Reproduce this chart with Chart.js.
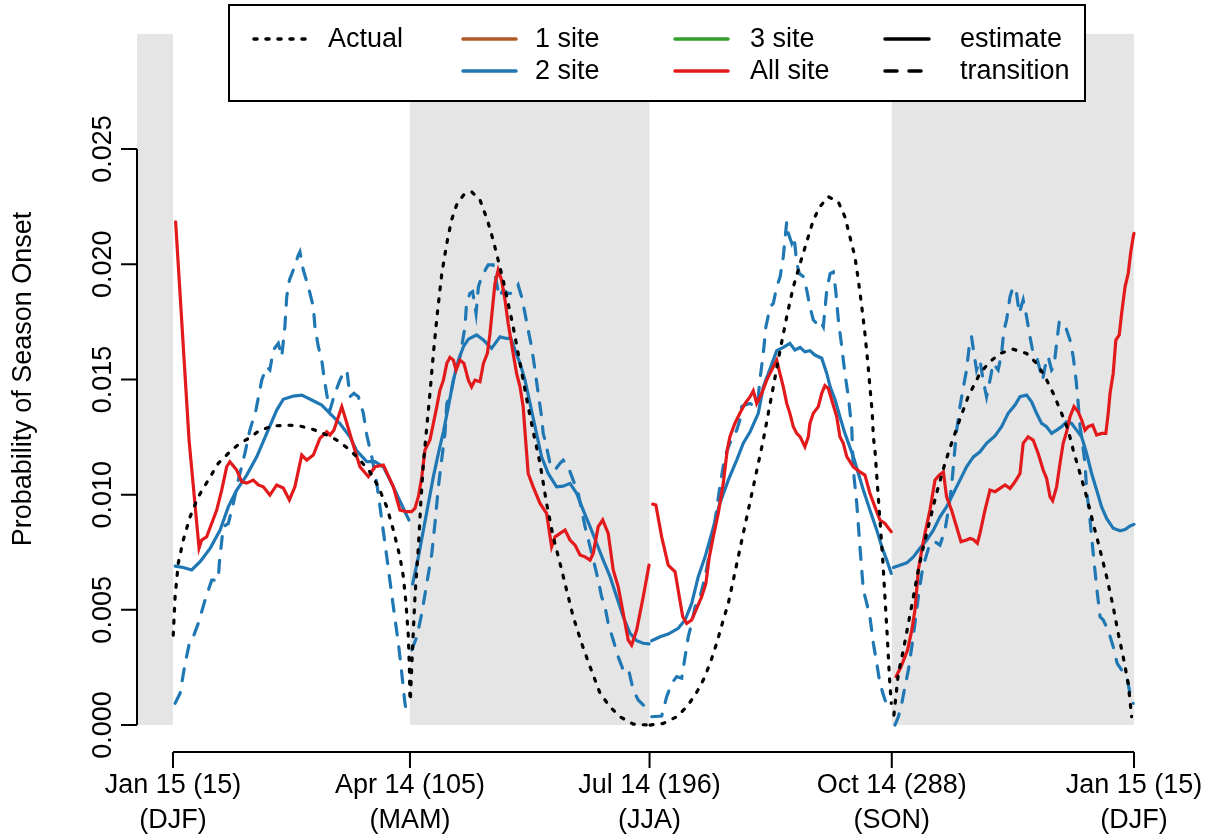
<!DOCTYPE html>
<html>
<head>
<meta charset="utf-8">
<title>Probability of Season Onset</title>
<script src="https://cdn.jsdelivr.net/npm/chart.js@4.4.1/dist/chart.umd.min.js"></script>
<style>
  body { margin: 0; background: #fff; }
  canvas { display: block; }
</style>
</head>
<body>
<canvas id="onset-chart" width="1210" height="837"></canvas>
<script>
// x = days after Jan 15, y = probability of season onset.
// A null probability breaks the line at a season boundary.
const actualDay = [
  0.1, 0.8, 2.0, 3.9, 6.5, 9.6, 13.4, 17.2, 21.6, 25.4, 29.2, 33.0, 38.1, 43.2, 48.2, 53.3, 58.4, 62.2, 67.2, 71.0,
  74.8, 78.0, 81.2, 83.7, 86.2, 87.5, 88.5, 89.4, 89.8, 90.0, 90.0,
  90.2, 91.0, 91.9, 93.2, 94.1, 95.1, 96.1, 97.6, 98.9, 100.4, 102.1, 104.0, 105.8, 107.7, 110.3, 113.4, 116.6, 119.4,
  121.6, 123.5, 125.4, 127.3, 129.2, 131.1, 133.0, 134.9, 136.8, 139.4, 141.9, 144.4, 147.0, 149.5, 152.0, 155.2,
  158.4, 162.2, 166.0, 169.8, 174.8, 180.6, 181.0,
  181.2, 186.2, 191.3, 195.1, 198.3, 201.4, 204.0, 206.5, 209.0, 210.9, 212.8, 214.7, 216.6, 218.5, 220.4, 222.3,
  224.2, 226.8, 228.0, 230.6, 233.1, 235.6, 238.2, 240.7, 243.2, 245.7, 248.9, 252.7, 255.2, 257.1, 259.0, 260.3,
  261.6, 262.8, 263.8, 264.7, 265.6, 266.0, 266.6, 267.5, 268.5, 269.5, 270.4, 271.3, 272.1, 272.8, 273.0,
  273.8, 275.5, 277.4, 279.3, 281.2, 283.1, 285.0, 287.5, 290.0, 293.2, 295.7, 298.3, 302.0, 306.5, 310.3, 314.1,
  319.1, 324.2, 328.0, 331.2, 334.3, 337.5, 340.0, 341.9, 344.5, 347.0, 349.5, 352.1, 354.6, 357.1, 359.0, 360.9,
  362.8, 364.1
];
const actualProb = [
  0.0039, 0.00557, 0.00702, 0.00803, 0.00904, 0.00991, 0.01063, 0.01136, 0.01186, 0.01223, 0.01247, 0.0128, 0.01298,
  0.01302, 0.01298, 0.01283, 0.01259, 0.01237, 0.01194, 0.0115, 0.01099, 0.01034, 0.00947, 0.00846, 0.0073, 0.00644,
  0.00528, 0.00383, 0.00239, 0.0012, null,
  0.00123, 0.0034, 0.00557, 0.00774, 0.00962, 0.01136, 0.01259, 0.0144, 0.01613, 0.01787, 0.0196, 0.02091, 0.02192,
  0.02257, 0.023, 0.02315, 0.02279, 0.02192, 0.02105, 0.02018, 0.01931, 0.0183, 0.01729, 0.01613, 0.01497, 0.01382,
  0.01273, 0.01136, 0.00962, 0.00817, 0.00702, 0.00586, 0.0047, 0.00355, 0.00253, 0.00138, 0.00079, 0.00036,
  0.00004, 0.0, null,
  0.0, 0.00007, 0.00036, 0.00079, 0.0013, 0.00195, 0.00268, 0.00355, 0.00456, 0.00528, 0.00629, 0.0073, 0.00832,
  0.00933, 0.01034, 0.01136, 0.01237, 0.01396, 0.01468, 0.01628, 0.01772, 0.01902, 0.02004, 0.02098, 0.02192, 0.0225,
  0.02293, 0.02271, 0.02206, 0.02119, 0.02033, 0.01931, 0.01816, 0.017, 0.01584, 0.01468, 0.01353, 0.01251, 0.01194,
  0.01049, 0.0089, 0.0073, 0.00557, 0.00383, 0.0021, 0.00094, null,
  0.00043, 0.00224, 0.00326, 0.00441, 0.00557, 0.00673, 0.00774, 0.0089, 0.01006, 0.01136, 0.01223, 0.01309, 0.01425,
  0.01527, 0.01577, 0.01613, 0.01631, 0.01613, 0.0157, 0.01512, 0.0144, 0.01353, 0.0128, 0.01194, 0.01092, 0.00991,
  0.00875, 0.0076, 0.00644, 0.00513, 0.00398, 0.00296, 0.00181, 0.00036
];

const allSiteDay = [
  1.0, 6.1, 9.9, 10.9, 12.8, 16.6, 18.5, 20.4, 21.6, 24.2, 26.1, 28.0, 30.5, 32.4, 34.3, 36.8, 39.4, 41.9, 44.2, 46.3,
  48.9, 50.8, 53.3, 55.8, 58.4, 59.6, 61.1, 64.1, 66.0, 67.9, 71.0, 74.2, 76.7, 79.9, 83.7, 86.2, 88.8, 90.6,
  91.9, 93.2, 94.5, 95.7, 97.6, 100.2, 101.4, 102.7, 104.0, 105.2, 106.5, 107.5, 109.0, 110.5, 112.2, 113.4, 114.7,
  116.6, 117.9, 119.4, 120.4, 121.4, 122.3, 123.5, 124.8, 126.1, 127.3, 129.2, 130.5, 131.8, 133.0, 133.7, 134.9,
  136.8, 139.4, 141.9, 143.8, 145.1, 147.0, 148.9, 150.8, 152.7, 154.6, 156.5, 158.4, 159.6, 161.5, 163.2, 165.3,
  167.2, 169.1, 171.0, 172.9, 174.2, 176.1, 178.6, 180.8, 181.0,
  182.2, 183.4, 185.6, 188.1, 190.7, 192.3, 193.6, 195.1, 197.0, 198.9, 200.8, 202.4, 203.7, 205.2, 207.1, 209.0,
  210.5, 211.5, 213.4, 215.3, 217.3, 219.2, 220.4, 221.7, 223.6, 225.5, 227.4, 229.3, 230.5, 231.8, 233.1, 234.3,
  235.6, 236.9, 238.2, 240.0, 241.3, 241.9, 243.2, 245.1, 246.4, 247.6, 248.9, 250.2, 252.1, 253.3, 254.6, 255.9,
  258.4, 260.9, 262.8, 264.7, 266.6, 268.5, 270.4, 272.8, 273.0,
  274.6, 276.5, 279.0, 280.6, 281.8, 283.1, 284.4, 285.6, 287.5, 289.4, 291.0, 292.6, 293.8, 295.7, 297.6, 299.3,
  301.4, 302.7, 303.9, 305.5, 306.5, 308.4, 310.3, 312.2, 314.1, 316.0, 317.9, 319.8, 321.7, 322.9, 324.8, 326.7,
  328.6, 330.5, 331.8, 333.1, 334.1, 335.6, 336.9, 338.1, 339.4, 340.7, 342.2, 343.8, 345.1, 346.4, 347.6, 349.3,
  350.8, 352.7, 354.3, 355.2, 355.9, 357.1, 358.1, 359.4, 360.3, 361.6, 362.8, 363.7, 364.7, 365.0
];
const allSiteProb = [
  0.02184, 0.01237, 0.00768, 0.00803, 0.00817, 0.00933, 0.0102, 0.01121, 0.01143, 0.01107, 0.01056, 0.0105, 0.01063,
  0.01042, 0.01034, 0.00998, 0.01042, 0.01029, 0.00977, 0.01034, 0.01172, 0.0115, 0.01172, 0.01244, 0.01273, 0.01259,
  0.0128, 0.01382, 0.01311, 0.01237, 0.01121, 0.01078, 0.01121, 0.01128, 0.01034, 0.00933, 0.00926, 0.00926,
  0.0094, 0.00991, 0.01078, 0.01194, 0.01237, 0.01382, 0.01454, 0.01497, 0.0157, 0.01596, 0.01584, 0.01541, 0.01584,
  0.0157, 0.01497, 0.01468, 0.01497, 0.0149, 0.0157, 0.01613, 0.017, 0.01816, 0.01917, 0.01975, 0.01931, 0.01845,
  0.01744, 0.01613, 0.01526, 0.01468, 0.01382, 0.01273, 0.01092, 0.01034, 0.00962, 0.00919, 0.00774, 0.00817, 0.00832,
  0.00846, 0.00803, 0.00781, 0.00738, 0.0073, 0.00716, 0.00745, 0.00861, 0.0089, 0.00832, 0.00673, 0.006, 0.00485,
  0.00369, 0.00347, 0.00412, 0.00557, 0.00694, null,
  0.00959, 0.00955, 0.00817, 0.00694, 0.00665, 0.00557, 0.0047, 0.00441, 0.00456, 0.00506, 0.00557, 0.00615, 0.0073,
  0.00817, 0.00919, 0.01049, 0.01194, 0.01251, 0.01309, 0.01353, 0.01396, 0.01425, 0.01451, 0.01396, 0.0144, 0.01497,
  0.01541, 0.01584, 0.01526, 0.01468, 0.01396, 0.01353, 0.01295, 0.01266, 0.01251, 0.01208, 0.01251, 0.01309, 0.01353,
  0.01382, 0.0144, 0.01473, 0.01461, 0.01411, 0.01338, 0.01251, 0.01223, 0.01165, 0.01121, 0.01099, 0.01085, 0.01006,
  0.00947, 0.0089, 0.00875, 0.00839, null,
  0.0021, 0.00253, 0.00326, 0.00412, 0.00499, 0.00673, 0.0076, 0.00832, 0.00933, 0.01063, 0.01085, 0.01099, 0.00991,
  0.00933, 0.00861, 0.00796, 0.00803, 0.0081, 0.00806, 0.00789, 0.00832, 0.00933, 0.0102, 0.01013, 0.01027, 0.01042,
  0.01027, 0.01056, 0.01092, 0.01223, 0.01251, 0.01237, 0.01179, 0.01107, 0.01071, 0.00991, 0.00974, 0.01034, 0.01136,
  0.01223, 0.01273, 0.01338, 0.01382, 0.0136, 0.01324, 0.0128, 0.01295, 0.01302, 0.01259, 0.01266, 0.01266, 0.01353,
  0.0144, 0.01527, 0.01671, 0.01693, 0.01787, 0.01902, 0.0196, 0.02047, 0.02119, 0.02134
];

const twoSiteDay = [
  0.8, 3.9, 7.1, 10.3, 14.1, 17.9, 21.0, 24.2, 28.0, 31.8, 35.6, 39.4, 41.9, 45.7, 48.9, 52.7, 56.5, 59.6, 63.4, 67.2,
  69.8, 73.6, 76.7, 79.9, 83.7, 86.9, 89.6, 90.0,
  91.0, 93.2, 95.1, 97.0, 98.9, 100.8, 102.7, 104.6, 106.5, 108.4, 110.3, 112.2, 115.3, 117.9, 121.0, 124.2, 126.7,
  128.3, 129.9, 131.8, 133.7, 135.6, 137.5, 140.0, 142.5, 145.7, 148.2, 150.8, 153.3, 155.8, 158.4, 160.9, 163.4,
  166.0, 168.5, 171.0, 173.6, 176.1, 178.6, 180.8, 181.0,
  181.8, 185.0, 188.1, 191.9, 194.5, 197.0, 199.5, 202.1, 204.6, 207.7, 210.9, 214.1, 216.6, 219.2, 222.3, 224.2,
  226.1, 228.0, 229.3, 231.8, 234.3, 236.2, 238.2, 240.0, 241.9, 243.8, 246.4, 248.3, 249.6, 251.5, 253.3, 255.2,
  258.4, 260.3, 262.2, 264.7, 267.3, 269.2, 271.1, 272.8, 273.0,
  273.6, 276.1, 278.7, 281.2, 283.7, 286.3, 288.8, 291.3, 293.8, 296.4, 298.9, 301.4, 304.0, 306.5, 309.0, 312.2,
  314.7, 317.2, 319.8, 321.7, 324.2, 326.1, 328.0, 329.9, 331.8, 333.7, 335.6, 337.5, 339.4, 341.3, 343.2, 345.1,
  347.0, 348.9, 350.8, 352.7, 354.6, 357.1, 359.7, 361.6, 363.5, 365.0
];
const twoSiteProb = [
  0.0069, 0.00684, 0.00673, 0.00709, 0.00767, 0.00846, 0.00947, 0.0102, 0.01085, 0.01164, 0.01266, 0.01367, 0.01414,
  0.01428, 0.01432, 0.01411, 0.01389, 0.01353, 0.01309, 0.01251, 0.0119, 0.01143, 0.01143, 0.01121, 0.01034, 0.00955,
  0.0089, null,
  0.00612, 0.0073, 0.00846, 0.00962, 0.01078, 0.01179, 0.01273, 0.01382, 0.01497, 0.01584, 0.01642, 0.01675, 0.01693,
  0.01671, 0.01635, 0.01685, 0.01678, 0.01678, 0.01628, 0.0157, 0.01497, 0.01396, 0.01295, 0.01164, 0.01092, 0.01034,
  0.01037, 0.01049, 0.01006, 0.00933, 0.00861, 0.00789, 0.00716, 0.00644, 0.00557, 0.0047, 0.00398, 0.00366, 0.00355,
  0.00352, null,
  0.00366, 0.00383, 0.00395, 0.0042, 0.00456, 0.00528, 0.00644, 0.0073, 0.00832, 0.00962, 0.01063, 0.0115, 0.01223,
  0.01273, 0.01353, 0.01468, 0.01526, 0.01584, 0.01625, 0.01639, 0.01657, 0.01628, 0.01639, 0.0162, 0.01625, 0.01606,
  0.01592, 0.01526, 0.01468, 0.01411, 0.01338, 0.01266, 0.01164, 0.01092, 0.0102, 0.00933, 0.00846, 0.00774, 0.00716,
  0.00658, null,
  0.00684, 0.00694, 0.00704, 0.0073, 0.00767, 0.00803, 0.00846, 0.00904, 0.00947, 0.01006, 0.01063, 0.01121, 0.01164,
  0.01186, 0.01223, 0.01255, 0.01295, 0.01353, 0.01389, 0.01425, 0.01432, 0.01403, 0.01353, 0.01309, 0.01295, 0.01266,
  0.0128, 0.01295, 0.01316, 0.01309, 0.0128, 0.01251, 0.01179, 0.01092, 0.0102, 0.00947, 0.00897, 0.00854, 0.00843,
  0.00849, 0.00864, 0.00871
];

const twoTransDay = [
  0.8, 2.7, 4.6, 6.5, 7.7, 9.6, 12.2, 14.7, 17.2, 17.6, 19.1, 21.0, 22.9, 24.8, 27.3, 29.2, 31.5, 33.7, 35.6, 36.8,
  38.1, 40.0, 41.3, 42.5, 43.2, 44.2, 45.7, 47.6, 48.2, 49.5, 51.4, 53.3, 53.9, 55.2, 56.5, 57.5, 59.0, 59.6, 61.5,
  63.4, 65.3, 66.2, 67.2, 68.7, 70.4, 72.3, 73.6, 75.5, 77.4, 79.3, 81.2, 83.7, 85.6, 86.9, 88.1, 89.0, 90.0,
  90.7, 92.6, 94.5, 96.4, 98.3, 99.5, 100.8, 101.4, 103.3, 104.0, 105.2, 107.1, 109.0, 110.9, 111.5, 112.8, 113.8,
  115.1, 116.0, 117.2, 119.7, 121.6, 122.7, 123.9, 125.4, 127.3, 129.2, 131.1, 132.4, 133.7, 134.9, 136.2, 137.5,
  138.7, 140.0, 140.6, 141.3, 143.2, 145.1, 147.0, 148.2, 150.1, 152.0, 153.9, 155.2, 156.5, 158.4, 160.3, 161.5,
  162.8, 164.1, 165.3, 167.2, 169.1, 171.0, 172.9, 174.8, 176.7, 179.3, 180.5, 181.0,
  181.8, 185.6, 187.5, 189.4, 191.3, 193.2, 194.5, 195.7, 197.0, 198.3, 200.2, 202.1, 204.0, 205.9, 207.7, 209.6,
  211.5, 214.1, 215.3, 216.0, 217.3, 219.2, 221.0, 222.3, 222.9, 224.2, 225.2, 226.8, 228.0, 229.3, 230.6, 231.8,
  232.4, 233.1, 233.7, 235.0, 235.9, 236.9, 237.9, 239.4, 240.7, 241.9, 243.2, 244.5, 245.7, 247.0, 248.3, 249.6,
  250.8, 251.7, 252.7, 254.0, 255.2, 256.5, 257.8, 258.4, 259.7, 260.9, 262.2, 263.5, 264.7, 266.0, 267.3, 268.5,
  270.4, 271.7, 272.8, 273.0,
  274.2, 275.5, 276.8, 278.0, 279.3, 280.6, 281.8, 283.1, 284.4, 285.6, 287.5, 289.4, 291.3, 293.2, 294.5, 295.7,
  296.6, 297.5, 298.9, 300.2, 301.4, 302.4, 303.3, 304.2, 305.2, 306.5, 307.7, 309.0, 310.3, 311.5, 313.4, 314.7,
  315.6, 316.6, 317.9, 319.1, 320.4, 321.4, 322.9, 324.2, 325.5, 326.7, 328.0, 329.3, 330.3, 331.2, 332.4, 333.7,
  334.6, 335.6, 336.6, 337.9, 339.2, 340.7, 341.9, 343.0, 343.8, 344.5, 345.1, 346.4, 347.0, 348.3, 349.5, 350.8,
  352.1, 353.3, 355.2, 357.1, 358.6, 360.3, 362.2, 363.5, 364.7
];
const twoTransProb = [
  0.00094, 0.00138, 0.00268, 0.00369, 0.00383, 0.00441, 0.00543, 0.00629, 0.00629, 0.00703, 0.00861, 0.00875, 0.00962,
  0.01063, 0.01179, 0.0128, 0.01367, 0.01497, 0.01555, 0.01541, 0.01628, 0.01657, 0.01599, 0.01729, 0.01859, 0.01931,
  0.01975, 0.0204, 0.02054, 0.01975, 0.01902, 0.01816, 0.01729, 0.01642, 0.01584, 0.01497, 0.01396, 0.01367, 0.0144,
  0.01497, 0.01541, 0.01526, 0.01425, 0.0144, 0.01425, 0.01353, 0.01259, 0.01164, 0.01049, 0.0089, 0.0073, 0.00513,
  0.00355, 0.00224, 0.00094, 0.00036, null,
  0.00326, 0.00383, 0.00485, 0.00615, 0.00745, 0.00875, 0.01034, 0.01092, 0.01266, 0.01396, 0.01425, 0.01527, 0.01599,
  0.01729, 0.0183, 0.01874, 0.01881, 0.01787, 0.01902, 0.01946, 0.01997, 0.01997, 0.01931, 0.01859, 0.01888, 0.01874,
  0.01874, 0.0191, 0.01859, 0.01787, 0.01714, 0.01642, 0.01541, 0.0144, 0.01338, 0.01266, 0.01237, 0.01136, 0.01107,
  0.01136, 0.0115, 0.01121, 0.01063, 0.01006, 0.00933, 0.00861, 0.00774, 0.00687, 0.00629, 0.00557, 0.00513, 0.00441,
  0.00369, 0.00296, 0.00239, 0.00246, 0.00152, 0.00109, 0.00079, 0.00065, null,
  0.00036, 0.00039, 0.00123, 0.00181, 0.0021, 0.00203, 0.00296, 0.00383, 0.00441, 0.00513, 0.00557, 0.00644, 0.0076,
  0.0089, 0.01034, 0.01164, 0.01223, 0.0128, 0.01324, 0.01382, 0.01389, 0.01396, 0.01382, 0.01425, 0.01497, 0.01613,
  0.01729, 0.01816, 0.0183, 0.01902, 0.01946, 0.02033, 0.02105, 0.02184, 0.02134, 0.02091, 0.02119, 0.02004, 0.0196,
  0.01946, 0.01888, 0.01816, 0.01758, 0.01743, 0.01758, 0.01729, 0.01888, 0.0196, 0.01967, 0.01888, 0.01758, 0.01642,
  0.01526, 0.01425, 0.01289, 0.01107, 0.00962, 0.00774, 0.00586, 0.00528, 0.0047, 0.00355, 0.00268, 0.00181, 0.00109,
  0.00079, 0.00079, null,
  0.0, 0.00036, 0.00094, 0.00166, 0.00239, 0.0034, 0.00441, 0.00557, 0.00658, 0.00716, 0.00789, 0.00796, 0.00781,
  0.00846, 0.00933, 0.01034, 0.0115, 0.01267, 0.01382, 0.01468, 0.01541, 0.01642, 0.01685, 0.01613, 0.01541, 0.01584,
  0.01497, 0.01425, 0.01497, 0.0157, 0.01541, 0.01613, 0.01714, 0.01758, 0.01859, 0.01902, 0.01874, 0.01787, 0.01845,
  0.01772, 0.01685, 0.01613, 0.01599, 0.01541, 0.01497, 0.01555, 0.01599, 0.01541, 0.01555, 0.01657, 0.0175, 0.0175,
  0.01722, 0.01671, 0.01599, 0.01497, 0.01396, 0.01295, 0.01251, 0.01136, 0.0102, 0.0089, 0.00745, 0.006, 0.0047,
  0.00456, 0.00412, 0.0034, 0.00268, 0.00239, 0.0021, 0.00138, 0.00094
];

const xTicks = [0, 90, 181, 273, 365];
const xTickLabels = [
  ['Jan 15 (15)', '(DJF)'],
  ['Apr 14 (105)', '(MAM)'],
  ['Jul 14 (196)', '(JJA)'],
  ['Oct 14 (288)', '(SON)'],
  ['Jan 15 (15)', '(DJF)']
];
const yTicks = [0, 0.005, 0.01, 0.015, 0.02, 0.025];

// grey season bands (days after Jan 15) reaching up to 0.03
const shadeFrom = [-20, 90, 273];
const shadeTo = [0, 181, 365];
const shadeTop = 0.03;

const legendLabels = [
  ['Actual', '1 site', '3 site', 'estimate'],
  ['', '2 site', 'All site', 'transition']
];

const brown = '#B15928';
const blue = '#1F78B4';
const green = '#33A02C';
const red = '#E31A1C';
const dotted = [3, 9];
const dashed = [12, 12];
const font = '27px "Liberation Sans", Arial, sans-serif';

function toPoints(days, probs) {
    return days.map((d, i) => ({ x: d, y: probs[i] }));
}

const rBase = {
    id: 'rBase',
    beforeDatasetsDraw(chart) {
        const { ctx, chartArea, scales: { x, y } } = chart;
        ctx.save();
        ctx.fillStyle = '#E5E5E5';
        const top = y.getPixelForValue(shadeTop);
        const bottom = y.getPixelForValue(0);
        shadeFrom.forEach((from, i) => {
            const left = Math.max(x.getPixelForValue(from), chartArea.left);
            const right = x.getPixelForValue(shadeTo[i]);
            ctx.fillRect(left, top, right - left, bottom - top);
        });
        ctx.restore();
    },
    afterDraw(chart) {
        const { ctx, chartArea, scales: { x, y } } = chart;
        ctx.save();
        ctx.strokeStyle = '#000';
        ctx.fillStyle = '#000';
        ctx.lineWidth = 2;
        ctx.font = font;

        // x axis
        const axisY = chartArea.bottom;
        ctx.beginPath();
        ctx.moveTo(x.getPixelForValue(xTicks[0]), axisY);
        ctx.lineTo(x.getPixelForValue(xTicks[xTicks.length - 1]), axisY);
        xTicks.forEach(v => {
            const px = x.getPixelForValue(v);
            ctx.moveTo(px, axisY);
            ctx.lineTo(px, axisY + 16);
        });
        ctx.stroke();
        ctx.textAlign = 'center';
        ctx.textBaseline = 'alphabetic';
        xTicks.forEach((v, i) => {
            const px = x.getPixelForValue(v);
            xTickLabels[i].forEach((line, j) => ctx.fillText(line, px, axisY + 41 + j * 35));
        });

        // y axis
        const axisX = chartArea.left;
        ctx.beginPath();
        ctx.moveTo(axisX, y.getPixelForValue(yTicks[0]));
        ctx.lineTo(axisX, y.getPixelForValue(yTicks[yTicks.length - 1]));
        yTicks.forEach(v => {
            const py = y.getPixelForValue(v);
            ctx.moveTo(axisX, py);
            ctx.lineTo(axisX - 16, py);
        });
        ctx.stroke();
        yTicks.forEach(v => {
            ctx.save();
            ctx.translate(axisX - 26, y.getPixelForValue(v));
            ctx.rotate(-Math.PI / 2);
            ctx.fillText(v.toFixed(3), 0, 0);
            ctx.restore();
        });
        ctx.save();
        ctx.translate(axisX - 106, (chartArea.top + chartArea.bottom) / 2);
        ctx.rotate(-Math.PI / 2);
        ctx.fillText('Probability of Season Onset', 0, 0);
        ctx.restore();

        // legend
        ctx.fillStyle = '#fff';
        ctx.fillRect(229, 5, 856, 96);
        ctx.lineWidth = 2;
        ctx.strokeRect(229, 5, 856, 96);
        const lineX = [[254, 306], [463, 516], [675, 728], [885, 929]];
        const textX = [328, 535, 750, 960];
        const rowY = [39, 71];
        const styles = [
            [['#000', dotted], [brown, []], [green, []], ['#000', []]],
            [null, [blue, []], [red, []], ['#000', dashed]]
        ];
        ctx.textAlign = 'left';
        ctx.textBaseline = 'middle';
        legendLabels.forEach((row, r) => {
            row.forEach((label, c) => {
                const style = styles[r][c];
                if (!style) return;
                ctx.beginPath();
                ctx.strokeStyle = style[0];
                ctx.setLineDash(style[1]);
                ctx.lineCap = 'round';
                ctx.lineWidth = 3.5;
                ctx.moveTo(lineX[c][0], rowY[r]);
                ctx.lineTo(lineX[c][1], rowY[r]);
                ctx.stroke();
                ctx.setLineDash([]);
                ctx.fillStyle = '#000';
                ctx.fillText(label, textX[c], rowY[r] + 1);
            });
        });
        ctx.restore();
    }
};

const common = { pointRadius: 0, tension: 0, fill: false, spanGaps: false, borderWidth: 3.2, borderCapStyle: 'round' };

new Chart(document.getElementById('onset-chart'), {
    type: 'line',
    data: {
        datasets: [
            Object.assign({ label: 'Actual', data: toPoints(actualDay, actualProb), borderColor: '#000', borderDash: dotted }, common),
            Object.assign({ label: 'All site estimate', data: toPoints(allSiteDay, allSiteProb), borderColor: red }, common),
            Object.assign({ label: '2 site estimate', data: toPoints(twoSiteDay, twoSiteProb), borderColor: blue }, common),
            Object.assign({ label: '2 site transition', data: toPoints(twoTransDay, twoTransProb), borderColor: blue, borderDash: dashed }, common)
        ]
    },
    options: {
        responsive: false,
        devicePixelRatio: 1,
        animation: false,
        events: [],
        layout: { padding: { left: 137, right: 38, top: 6, bottom: 85 } },
        scales: {
            x: { type: 'linear', display: false, min: -13.67, max: 379.43 },
            y: { type: 'linear', display: false, min: -0.00117, max: 0.03121 }
        },
        plugins: {
            legend: { display: false },
            tooltip: { enabled: false }
        }
    },
    plugins: [rBase]
});
</script>
</body>
</html>
